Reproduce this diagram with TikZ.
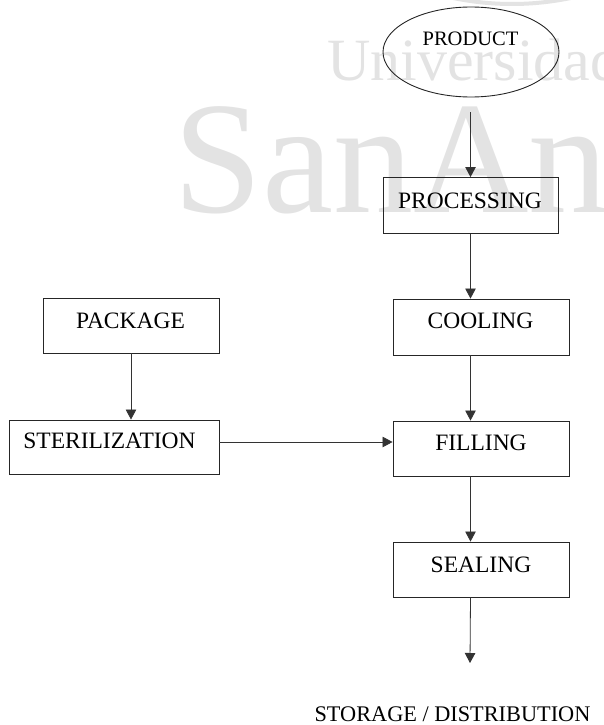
\documentclass[tikz,border=0pt]{standalone}
\usepackage{fontspec}
\setmainfont{Liberation Serif}
\usetikzlibrary{shapes.geometric,arrows.meta}
\begin{document}
\begin{tikzpicture}[x=1pt,y=-1pt,
  boxst/.style={draw=black!85,line width=0.9pt,rectangle,inner sep=0pt},
  lbl/.style={inner sep=0pt,anchor=base,font=\fontsize{23.5}{25}\selectfont},
  arr/.style={draw=black!80,line width=0.8pt,-{Triangle[length=10pt,width=10.5pt]}},
  wm/.style={inner sep=0pt,anchor=base west,text=black!11}]
\useasboundingbox (0,0) rectangle (604,725);
\begin{scope}
\clip (0,0) rectangle (604,725);
% watermark
\node[wm,font=\fontsize{60}{62}\selectfont] (wm1) at (327,80) {Universidad};
\node[wm,font=\fontsize{160}{162}\selectfont] (wm2) at (173,212) {SanAndres};
\draw[black!11,line width=4pt] (512,-286) ++(103:290) arc[start angle=103,end angle=77,radius=290];
\end{scope}
% nodes
\node[draw=black!85,line width=0.9pt,ellipse,inner sep=0pt,minimum width=176,minimum height=90] (prod) at (471,52) {};
\node[lbl,font=\fontsize{20.5}{22}\selectfont] (prodt) at (470.5,46) {PRODUCT};
\node[boxst,minimum width=175,minimum height=56] (proc) at (470.5,205.5) {};
\node[lbl] (proct) at (470,208) {PROCESSING};
\node[boxst,minimum width=176,minimum height=56] (cool) at (481,327) {};
\node[lbl] (coolt) at (480.5,328) {COOLING};
\node[boxst,minimum width=176,minimum height=55] (fill) at (481,448.5) {};
\node[lbl] (fillt) at (481,450) {FILLING};
\node[boxst,minimum width=176,minimum height=55] (seal) at (481,569.5) {};
\node[lbl] (sealt) at (481,572) {SEALING};
\node[boxst,minimum width=176,minimum height=55] (pack) at (131,325.5) {};
\node[lbl] (packt) at (130.5,328) {PACKAGE};
\node[boxst,minimum width=210,minimum height=54] (ster) at (114,447) {};
\node[lbl] (stert) at (109.5,448) {STERILIZATION};
\node[lbl,font=\fontsize{22.3}{24}\selectfont] (stor) at (452.5,721) {STORAGE / DISTRIBUTION};
\coordinate (endp) at (470,663);
% connectors
\draw[arr,shorten <=15pt] (prod.south -| proc.north) -- (proc.north);
\draw[arr] (proc.south) -- (proc.south |- cool.north);
\draw[arr] (proc.south |- cool.south) -- (proc.south |- fill.north);
\draw[arr] (proc.south |- fill.south) -- (proc.south |- seal.north);
\draw[arr] (proc.south |- seal.south) -- (endp);
\draw[arr] (pack.south) -- (pack.south |- ster.north);
\draw[arr] ([yshift=5pt]ster.east) -- ([yshift=5pt]ster.east -| fill.west);
\end{tikzpicture}
\end{document}
